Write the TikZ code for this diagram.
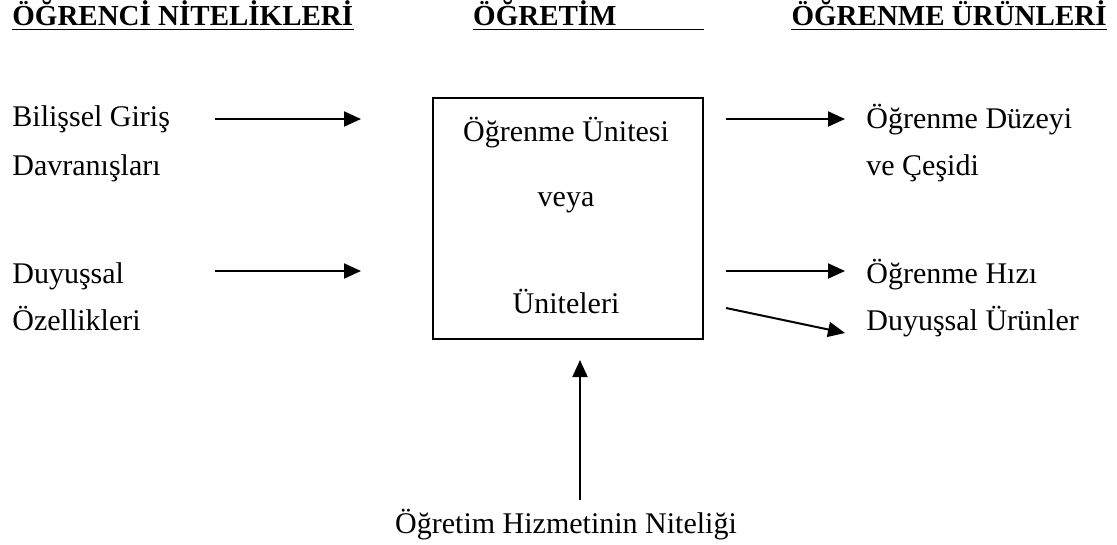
\documentclass[tikz,border=0pt]{standalone}
\usepackage{fontspec}
\setmainfont{Liberation Serif}
\usetikzlibrary{arrows.meta}

\newcommand\baslik[1]{\fontsize{14.5}{17}\selectfont\textbf{#1}}

\begin{document}
\begin{tikzpicture}[x=0.5pt,y=-0.5pt,
  font=\fontsize{15}{18}\selectfont,
  every node/.style={inner sep=0pt},
  ok/.style={-{Triangle[length=8.5pt,width=7.5pt]}, line width=1pt},
  alt/.style={line width=0.75pt}]
\useasboundingbox (0,0) rectangle (1117,545);

\node[anchor=base west] (h1) at (12,26) {\baslik{ÖĞRENCİ NİTELİKLERİ}};
\node[anchor=base east] (h2) at (617,26) {\baslik{ÖĞRETİM}};
\node[anchor=base east] (h3) at (1107,26) {\baslik{ÖĞRENME ÜRÜNLERİ}};

\node[draw, line width=1pt, minimum width=135pt, minimum height=120.5pt] (kutu) at (568,218.5) {};

\draw[alt] ([yshift=-1.75pt]h1.base west) -- ([yshift=-1.75pt]h1.base east);
\draw[alt] ([yshift=-1.75pt]h2.base west) -- ([yshift=-1.75pt]h2.base west -| kutu.east);
\draw[alt] ([yshift=-1.75pt]h3.base west) -- ([yshift=-1.75pt]h3.base east);

\node[anchor=base west] (bil) at (12,127) {Bilişsel Giriş};
\node[anchor=base west] (dav) at (12,176) {Davranışları};
\node[anchor=base west] (duy) at (12,283) {Duyuşsal};
\node[anchor=base west] (oze) at (12,330) {Özellikleri};

\node[anchor=base] (uni1) at (566,142) {Öğrenme Ünitesi};
\node[anchor=base] (veya) at (566,206) {veya};
\node[anchor=base] (uni2) at (566,313) {Üniteleri};

\node[anchor=base west] (duz) at (866,129) {Öğrenme Düzeyi};
\node[anchor=base west] (ces) at (866,176) {ve Çeşidi};
\node[anchor=base west] (hiz) at (866,283) {Öğrenme Hızı};
\node[anchor=base west] (uru) at (866,330) {Duyuşsal Ürünler};

\node[anchor=base] (nit) at (566,533) {Öğretim Hizmetinin Niteliği};

% girdiler
\draw[ok] ([xshift=-108.5pt,yshift=4pt]kutu.west |- bil.base) -- ([xshift=-35.5pt,yshift=4pt]kutu.west |- bil.base);
\draw[ok] ([xshift=-108.5pt,yshift=6pt]kutu.west |- duy.base) -- ([xshift=-35.5pt,yshift=6pt]kutu.west |- duy.base);
% ciktilar
\draw[ok] ([xshift=11pt,yshift=5pt]kutu.east |- duz.base) -- ([xshift=-10.5pt,yshift=5pt]duz.base west);
\draw[ok] ([xshift=11pt,yshift=6pt]kutu.east |- hiz.base) -- ([xshift=-10.5pt,yshift=6pt]hiz.base west);
\draw[ok] ([xshift=11pt,yshift=-44.75pt]kutu.east) -- ([xshift=-10.5pt,yshift=-1.5pt]uru.base west);
% ogretim
\draw[ok] ([xshift=7pt,yshift=4pt]nit.north) -- ([xshift=7pt,yshift=-10pt]nit.north |- kutu.south);
\end{tikzpicture}
\end{document}
